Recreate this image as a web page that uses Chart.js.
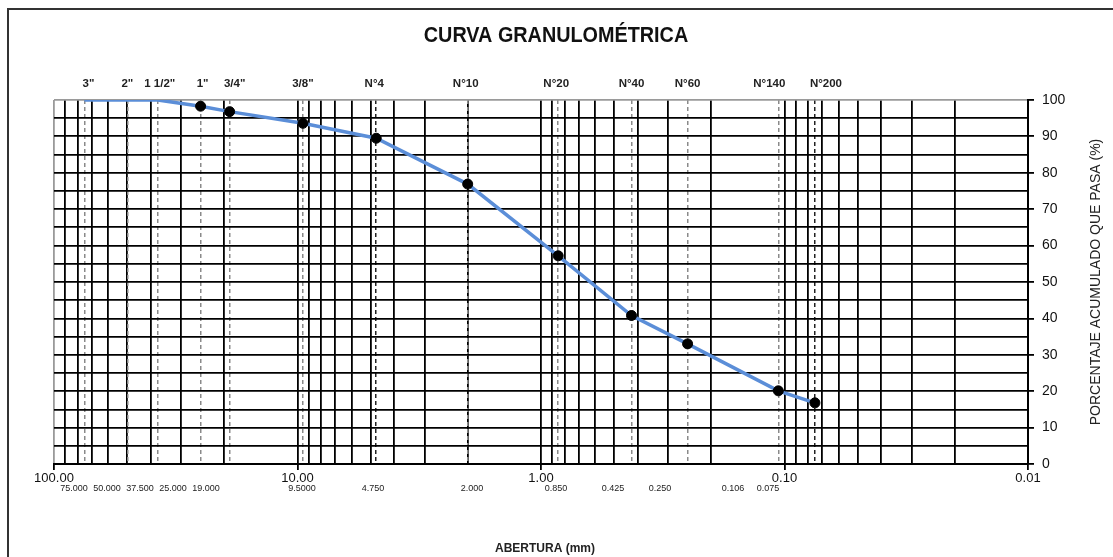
<!DOCTYPE html>
<html><head><meta charset="utf-8">
<script src="https://cdn.jsdelivr.net/npm/chart.js@4.4.0/dist/chart.umd.min.js"></script>
<style>html,body{margin:0;padding:0;background:#fff;}#wrap{width:1113px;height:557px;position:relative;}</style>
</head><body><div id="wrap"><canvas id="c" width="1113" height="557"></canvas></div>
<script>
// ---- data ----
const sieveNames = ['3"','2"','1 1/2"','1"','3/4"','3/8"','N°4','N°10','N°20','N°40','N°60','N°140','N°200'];
const sieveSizes = [75, 50, 37.5, 25, 19, 9.5, 4.75, 2.0, 0.85, 0.425, 0.25, 0.106, 0.075];
const sizeLabels = ['75.000','50.000','37.500','25.000','19.000','9.5000','4.750','2.000','0.850','0.425','0.250','0.106','0.075'];
const percentPassing = [100, 100, 100, 98.3, 96.8, 93.6, 89.5, 76.9, 57.2, 40.8, 33.0, 20.1, 16.8];
const yTickValues = [0,5,10,15,20,25,30,35,40,45,50,55,60,65,70,75,80,85,90,95,100];
const decades = [-2,-1,0,1];
const chartTitle = 'CURVA GRANULOMÉTRICA';
const xTitle = 'ABERTURA (mm)';
const yTitle = 'PORCENTAJE ACUMULADO QUE PASA (%)';

// ---- layout (text placement only) ----
const sizeLabelX = [74,107,140,173,206,302,373,472,556,613,660,733,768];
const sieveLabelDx = [4,0,2,2,5,0,-2,-2,-2,0,0,-9,11];
const darkDashed = ['N°4','N°200'];
const FONT = "'Liberation Sans', Arial, sans-serif";

const gridValues = [];
decades.forEach(e => { for (let m = 1; m <= 9; m++) gridValues.push(Number((m*Math.pow(10,e)).toPrecision(6))); });
gridValues.push(100);
const isDecade = v => Math.abs(Math.log10(v) - Math.round(Math.log10(v))) < 1e-9;

const extras = {
  id: 'extras',
  beforeDraw(chart) {
    const c = chart.ctx;
    c.save();
    c.strokeStyle = '#333'; c.lineWidth = 2;
    c.beginPath(); c.moveTo(8, 557); c.lineTo(8, 9); c.lineTo(1113, 9); c.stroke();
    c.restore();
  },
  afterDraw(chart) {
    const c = chart.ctx, a = chart.chartArea, xs = chart.scales.x;
    c.save();
    c.fillStyle = '#111';
    c.textAlign = 'center'; c.textBaseline = 'middle';
    c.save();
    c.translate(556, 36);
    c.scale(0.9, 1);
    c.font = 'bold 22px ' + FONT;
    c.fillText(chartTitle, 0, 0);
    c.restore();
    c.fillStyle = '#222';
    c.font = 'bold 11.5px ' + FONT;
    sieveNames.forEach((n, i) => {
      c.fillText(n, xs.getPixelForValue(sieveSizes[i]) + sieveLabelDx[i], a.top - 16);
    });
    c.font = '9px ' + FONT;
    sizeLabels.forEach((t, i) => c.fillText(t, sizeLabelX[i], a.bottom + 25));
    c.font = 'bold 12px ' + FONT;
    c.fillText(xTitle, (a.left + a.right) / 2 + 4, 549);
    c.translate(1096, (a.top + a.bottom) / 2);
    c.rotate(-Math.PI / 2);
    c.font = '14px ' + FONT;
    c.fillText(yTitle, 0, 0);
    c.restore();
  }
};

new Chart(document.getElementById('c'), {
  type: 'scatter',
  data: {
    datasets: [{
      data: sieveSizes.map((s, i) => ({ x: s, y: percentPassing[i] })),
      showLine: true,
      borderColor: '#5b8ed8',
      borderWidth: 3.5,
      pointRadius: ctx => (ctx.raw && ctx.raw.y >= 100) ? 0 : 5,
      pointBackgroundColor: '#000',
      pointBorderColor: '#000',
      pointBorderWidth: 1,
      tension: 0
    }]
  },
  options: {
    responsive: false,
    animation: false,
    devicePixelRatio: 1,
    layout: { padding: { left: 54, right: 0, top: 80, bottom: 0 } },
    plugins: {
      legend: { display: false },
      tooltip: { enabled: false },
      title: { display: false }
    },
    scales: {
      x: {
        type: 'logarithmic', position: 'bottom', reverse: true, min: 0.01, max: 100,
        afterBuildTicks: sc => { sc.ticks = gridValues.map(v => ({ value: v })); },
        afterFit: sc => { sc.height = 93; },
        ticks: {
          autoSkip: false, maxRotation: 0, minRotation: 0, padding: 1,
          color: '#111', font: { family: FONT, size: 13 },
          callback: v => isDecade(v) ? v.toFixed(2) : ''
        },
        grid: {
          color: ctx => (ctx.tick && ctx.tick.value === 100) ? '#9a9a9a' : '#000',
          lineWidth: 1.8, tickLength: 6,
          tickColor: ctx => (ctx.tick && isDecade(ctx.tick.value)) ? '#000' : 'rgba(0,0,0,0)'
        },
        border: { color: '#000', width: 2 }
      },
      xTop: {
        type: 'logarithmic', position: 'top', reverse: true, min: 0.01, max: 100,
        afterBuildTicks: sc => { sc.ticks = sieveSizes.map(v => ({ value: v })); },
        afterFit: sc => { sc.height = 20; },
        ticks: { display: false, autoSkip: false },
        grid: {
          color: ctx => darkDashed.includes(sieveNames[ctx.index]) ? '#222' : '#8a8a8a',
          lineWidth: 1.5, drawTicks: false
        },
        border: { display: false, dash: [4, 3] }
      },
      y: {
        type: 'linear', position: 'right', min: 0, max: 100,
        afterBuildTicks: sc => { sc.ticks = yTickValues.map(v => ({ value: v })); },
        afterFit: sc => { sc.width = 85; },
        ticks: {
          autoSkip: false,
          padding: 8, color: '#111', font: { family: FONT, size: 14 },
          callback: v => (v % 10 === 0) ? String(v) : ''
        },
        grid: {
          color: ctx => (ctx.tick && ctx.tick.value === 100) ? '#9a9a9a' : '#000',
          lineWidth: 1.8, tickLength: 6,
          tickColor: ctx => (ctx.tick && ctx.tick.value % 10 === 0) ? '#000' : 'rgba(0,0,0,0)'
        },
        border: { color: '#000', width: 2 }
      }
    }
  },
  plugins: [extras]
});
</script></body></html>
